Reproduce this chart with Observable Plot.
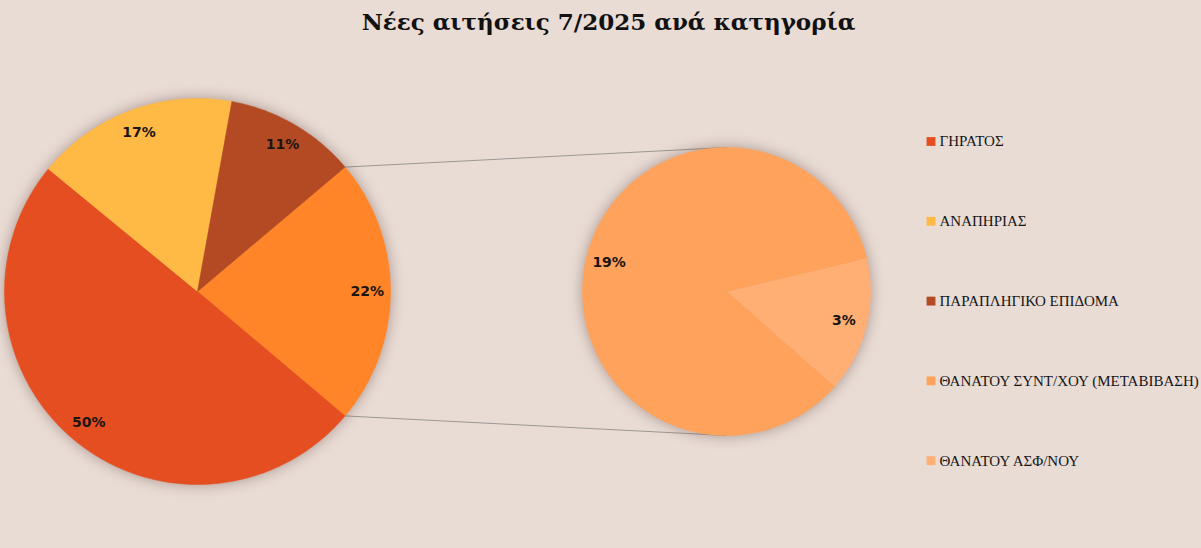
<!DOCTYPE html>
<html><head><meta charset="utf-8">
<script src="https://cdn.jsdelivr.net/npm/d3@7"></script>
<script src="https://cdn.jsdelivr.net/npm/@observablehq/plot@0.6"></script>
<style>
html,body{margin:0;padding:0;background:#E9DCD5;}
body{width:1201px;height:548px;overflow:hidden;}
#title{height:44px;line-height:44px;text-align:center;font-family:"DejaVu Serif",serif;font-weight:bold;font-size:23px;color:#111;padding-left:16px;box-sizing:border-box;}
</style></head><body>
<div id="title">Νέες αιτήσεις 7/2025 ανά κατηγορία</div>
<div id="chart"></div>
<script>
// ---- data ----
const categories = ["ΓΗΡΑΤΟΣ", "ΑΝΑΠΗΡΙΑΣ", "ΠΑΡΑΠΛΗΓΙΚΟ ΕΠΙΔΟΜΑ", "ΘΑΝΑΤΟΥ ΣΥΝΤ/ΧΟΥ (ΜΕΤΑΒΙΒΑΣΗ)", "ΘΑΝΑΤΟΥ ΑΣΦ/ΝΟΥ"];
const shares = [49.8, 16.9, 11.0, 18.9, 3.4];          // % of total
const inSecondPie = [false, false, false, true, true];
const sliceColors = ["#E54E21", "#FFB945", "#B34A24", "#FFA35C", "#FFAE74"];
const otherColor = "#FF8528";

// ---- layout ----
const W = 1201, H = 504, TOP = 44;
const main = {cx: 197, cy: 291, r: 193};
const sub = {cx: 726, cy: 291, r: 144};
const deg = Math.PI / 180;

const mainIdx = categories.map((c, i) => i).filter(i => !inSecondPie[i]);
const subIdx = categories.map((c, i) => i).filter(i => inSecondPie[i]);
const otherTotal = d3.sum(subIdx, i => shares[i]);
const total = d3.sum(shares);

const mainSlices = [];
const otherSpan = otherTotal / total * 360;
mainSlices.push({key: "other", value: otherTotal, color: otherColor, a0: -otherSpan / 2, a1: otherSpan / 2});
let a = otherSpan / 2;
for (const i of mainIdx) {
  const span = shares[i] / total * 360;
  mainSlices.push({key: categories[i], value: shares[i], color: sliceColors[i], a0: a, a1: a + span});
  a += span;
}
const subSlices = [];
const lastI = subIdx[subIdx.length - 1];
const lastSpan = shares[lastI] / otherTotal * 360;
let b = 14 - lastSpan / 2;
subSlices.push({key: categories[lastI], value: shares[lastI], color: sliceColors[lastI], a0: b, a1: b + lastSpan});
b += lastSpan;
for (const i of subIdx.slice(0, -1)) {
  const span = shares[i] / otherTotal * 360;
  subSlices.push({key: categories[i], value: shares[i], color: sliceColors[i], a0: b, a1: b + span});
  b += span;
}

function polys(slices, g, tag) {
  const pts = [];
  for (const s of slices) {
    const k = tag + s.key;
    pts.push({k, x: g.cx, y: g.cy, color: s.color});
    const n = Math.max(2, Math.ceil(s.a1 - s.a0));
    for (let j = 0; j <= n; j++) {
      const t = (s.a0 + (s.a1 - s.a0) * j / n) * deg;
      pts.push({k, x: g.cx + g.r * Math.cos(t), y: g.cy + g.r * Math.sin(t), color: s.color});
    }
    pts.push({k, x: g.cx, y: g.cy, color: s.color});
  }
  return pts;
}
function labelsOf(slices, g, f) {
  return slices.map(s => {
    const t = (s.a0 + s.a1) / 2 * deg;
    return {x: g.cx + g.r * f * Math.cos(t), y: g.cy + g.r * f * Math.sin(t), text: Math.round(s.value / total * 100) + "%"};
  });
}
const mainPts = polys(mainSlices, main, "m");
const subPts = polys(subSlices, sub, "s");
const labelPts = [...labelsOf(mainSlices, main, 0.88), ...labelsOf(subSlices, sub, 0.84)];

const oth = mainSlices[0];
const connectors = [
  {x1: main.cx + main.r * Math.cos(oth.a0 * deg), y1: main.cy + main.r * Math.sin(oth.a0 * deg), x2: sub.cx, y2: sub.cy - sub.r},
  {x1: main.cx + main.r * Math.cos(oth.a1 * deg), y1: main.cy + main.r * Math.sin(oth.a1 * deg), x2: sub.cx, y2: sub.cy + sub.r}
];

const legend = categories.map((c, i) => ({name: c, color: sliceColors[i], x: 930.5, y: 141 + i * 79.8}));

const plot = Plot.plot({
  width: W, height: H,
  margin: 0,
  style: {background: "transparent", overflow: "visible"},
  x: {domain: [0, W], range: [0, W], axis: null},
  y: {domain: [TOP, TOP + H], range: [0, H], axis: null},
  color: {type: "identity"},
  marks: [
    Plot.link(connectors, {x1: "x1", y1: "y1", x2: "x2", y2: "y2", stroke: "#9c9894", strokeWidth: 1}),
    Plot.line(mainPts, {x: "x", y: "y", z: "k", fill: "color", stroke: "color", strokeWidth: 0.5}),
    Plot.line(subPts, {x: "x", y: "y", z: "k", fill: "color", stroke: "color", strokeWidth: 0.5}),
    Plot.text(labelPts, {x: "x", y: "y", text: "text", fill: "#1c1410", fontSize: 14, fontWeight: "bold", fontFamily: "DejaVu Sans"}),
    Plot.dot(legend, {x: "x", y: "y", fill: "color", symbol: "square", r: 5, stroke: null}),
    Plot.text(legend, {x: "x", y: "y", text: "name", dx: 8.5, textAnchor: "start", fill: "#151515", fontSize: 15, fontFamily: "Liberation Serif"})
  ]
});
document.getElementById("chart").appendChild(plot);
d3.select(plot).selectAll("g[aria-label='line']")
  .style("filter", "drop-shadow(0px 0px 7px rgba(90,60,50,0.45))");
</script>
</body></html>
